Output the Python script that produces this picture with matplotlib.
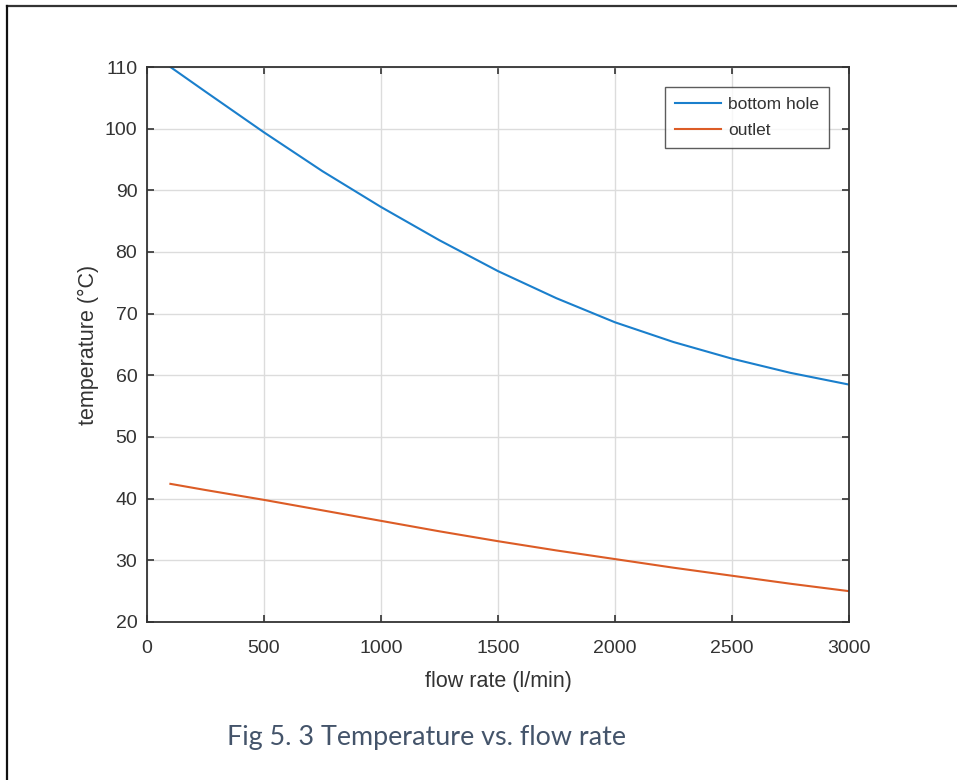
import matplotlib
matplotlib.use("Agg")
import matplotlib.pyplot as plt
from matplotlib.lines import Line2D

# Flow rate (l/min) and computed temperatures (°C)
flow_rate = [100, 250, 500, 750, 1000, 1250, 1500, 1750, 2000, 2250, 2500, 2750, 3000]
bottom_hole = [110.0, 106.0, 99.4, 93.1, 87.3, 81.9, 76.9, 72.5, 68.6, 65.4, 62.7, 60.4, 58.5]
outlet = [42.4, 41.4, 39.8, 38.1, 36.4, 34.7, 33.1, 31.6, 30.2, 28.8, 27.5, 26.2, 25.0]

x_ticks = [0, 500, 1000, 1500, 2000, 2500, 3000]
y_ticks = [20, 30, 40, 50, 60, 70, 80, 90, 100, 110]

plt.rcParams['font.family'] = ['Liberation Sans', 'DejaVu Sans']
axis_color = '#333333'

fig = plt.figure(figsize=(9.57, 7.8), dpi=100)
ax = fig.add_axes([0.1536, 0.2026, 0.7335, 0.7115])

ax.plot(flow_rate, bottom_hole, color='#1a7fcc', lw=1.5, label='bottom hole')
ax.plot(flow_rate, outlet, color='#dc5c26', lw=1.5, label='outlet')

ax.set_xlim(0, 3000)
ax.set_ylim(20, 110)
ax.set_xticks(x_ticks)
ax.set_yticks(y_ticks)
ax.grid(True, color='#dcdcdc', lw=1.0)
ax.set_axisbelow(True)

ax.tick_params(direction='in', top=True, right=True, length=5, width=1.2,
               colors=axis_color, labelsize=14)
ax.tick_params(axis='x', pad=13)
ax.tick_params(axis='y', pad=7)
for sp in ax.spines.values():
    sp.set_color(axis_color)
    sp.set_linewidth(1.3)

ax.set_xlabel('flow rate (l/min)', fontsize=15.5, color=axis_color, labelpad=10)
ax.set_ylabel('temperature (°C)', fontsize=15.5, color=axis_color, labelpad=4)

leg = ax.legend(loc='upper right', fontsize=12.5, frameon=True, fancybox=False,
                edgecolor=axis_color, handlelength=2.7, borderaxespad=1.15,
                handletextpad=0.4, labelspacing=0.65, borderpad=0.55)
leg.get_frame().set_linewidth(1.0)
for t in leg.get_texts():
    t.set_color(axis_color)

fig.text(227 / 957, 1 - 745 / 780, 'Fig 5. 3 Temperature vs. flow rate',
         fontsize=19.4, color='#44546A', family=['Lato', 'DejaVu Sans'],
         ha='left', va='baseline')

# Page frame: top and left edges
fig.add_artist(Line2D([7.5 / 957, 1.0], [1 - 5.5 / 780, 1 - 5.5 / 780],
                      transform=fig.transFigure, color='#333333', lw=1.6))
fig.add_artist(Line2D([7.5 / 957, 7.5 / 957], [0.0, 1 - 5.5 / 780],
                      transform=fig.transFigure, color='#111111', lw=1.6))

fig.savefig('out.png', dpi=100)
